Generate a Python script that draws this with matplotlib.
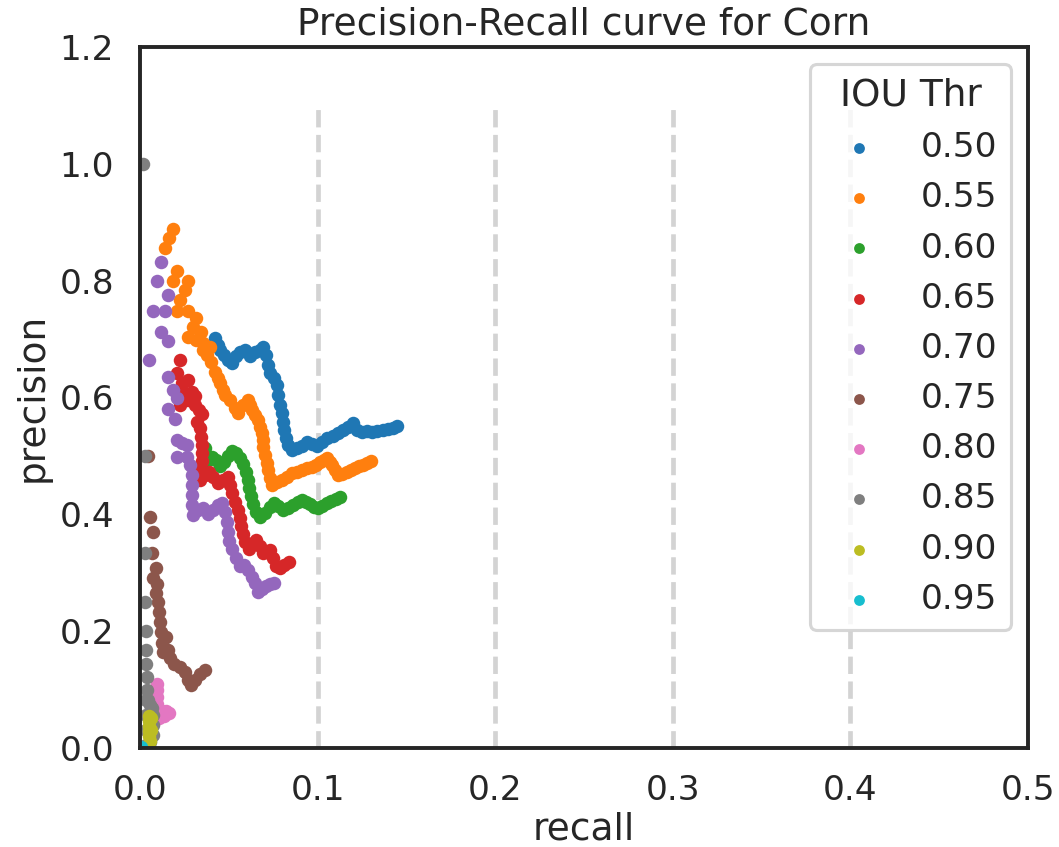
import numpy as np
import matplotlib
matplotlib.use("Agg")
from matplotlib import pyplot as plt
import seaborn as sns

# IOU thresholds shown in the legend
thresholds = ['0.50', '0.55', '0.60', '0.65', '0.70', '0.75', '0.80', '0.85', '0.90', '0.95']

recall_050 = [0.0422, 0.0439, 0.0450, 0.0473, 0.0495, 0.0518, 0.0541, 0.0563, 0.0591, 0.0619,
              0.0648, 0.0676, 0.0693, 0.0709, 0.0721, 0.0732, 0.0755, 0.0771, 0.0777, 0.0788,
              0.0800, 0.0805, 0.0811, 0.0822, 0.0833, 0.0856, 0.0884, 0.0912, 0.0940, 0.0968,
              0.0997, 0.1025, 0.1053, 0.1087, 0.1115, 0.1143, 0.1171, 0.1199, 0.1222, 0.1250,
              0.1278, 0.1306, 0.1334, 0.1368, 0.1396, 0.1425, 0.1447]
precision_050 = [0.702, 0.690, 0.681, 0.673, 0.664, 0.659, 0.671, 0.678, 0.681, 0.671,
                 0.678, 0.681, 0.686, 0.673, 0.656, 0.642, 0.633, 0.621, 0.604, 0.587,
                 0.573, 0.558, 0.544, 0.531, 0.519, 0.510, 0.514, 0.517, 0.524, 0.520,
                 0.517, 0.524, 0.531, 0.534, 0.539, 0.544, 0.549, 0.556, 0.544, 0.541,
                 0.543, 0.541, 0.543, 0.544, 0.546, 0.548, 0.551]

recall_055 = [0.0186, 0.0163, 0.0141, 0.0208, 0.0186, 0.0270, 0.0253, 0.0225, 0.0208, 0.0270,
              0.0315, 0.0298, 0.0343, 0.0270, 0.0315, 0.0355, 0.0394, 0.0355, 0.0377, 0.0400,
              0.0422, 0.0439, 0.0450, 0.0467, 0.0479, 0.0507, 0.0535, 0.0552, 0.0580, 0.0608,
              0.0619, 0.0631, 0.0648, 0.0664, 0.0676, 0.0687, 0.0693, 0.0693, 0.0704, 0.0715,
              0.0721, 0.0732, 0.0743, 0.0771, 0.0800, 0.0828, 0.0856, 0.0884, 0.0912, 0.0940,
              0.0968, 0.0991, 0.1014, 0.1036, 0.1053, 0.1070, 0.1081, 0.1098, 0.1115, 0.1137,
              0.1166, 0.1188, 0.1211, 0.1233, 0.1256, 0.1278, 0.1301]
precision_055 = [0.888, 0.873, 0.856, 0.817, 0.799, 0.799, 0.784, 0.767, 0.748, 0.748,
                 0.736, 0.721, 0.712, 0.704, 0.698, 0.693, 0.686, 0.681, 0.673, 0.661,
                 0.644, 0.633, 0.625, 0.613, 0.604, 0.596, 0.582, 0.573, 0.587, 0.596,
                 0.587, 0.579, 0.570, 0.561, 0.549, 0.539, 0.527, 0.515, 0.502, 0.488,
                 0.476, 0.462, 0.450, 0.455, 0.459, 0.464, 0.471, 0.472, 0.476, 0.479,
                 0.481, 0.484, 0.490, 0.493, 0.496, 0.490, 0.484, 0.476, 0.467, 0.469,
                 0.472, 0.476, 0.479, 0.483, 0.484, 0.488, 0.491]

recall_060 = [0.0366, 0.0366, 0.0383, 0.0405, 0.0428, 0.0450, 0.0473, 0.0495, 0.0518, 0.0541,
              0.0563, 0.0580, 0.0597, 0.0608, 0.0614, 0.0625, 0.0636, 0.0653, 0.0676, 0.0704,
              0.0732, 0.0755, 0.0777, 0.0805, 0.0833, 0.0861, 0.0890, 0.0912, 0.0935, 0.0957,
              0.0980, 0.1002, 0.1025, 0.1053, 0.1075, 0.1104, 0.1126]
precision_060 = [0.514, 0.502, 0.493, 0.498, 0.493, 0.483, 0.490, 0.500, 0.508, 0.505,
                 0.496, 0.486, 0.472, 0.459, 0.445, 0.431, 0.418, 0.404, 0.395, 0.402,
                 0.413, 0.419, 0.414, 0.407, 0.411, 0.416, 0.421, 0.425, 0.421, 0.418,
                 0.413, 0.411, 0.414, 0.419, 0.423, 0.426, 0.430]

recall_065 = [0.0225, 0.0208, 0.0236, 0.0270, 0.0253, 0.0293, 0.0310, 0.0225, 0.0270, 0.0310,
              0.0332, 0.0349, 0.0321, 0.0338, 0.0343, 0.0349, 0.0349, 0.0349, 0.0343, 0.0338,
              0.0366, 0.0389, 0.0411, 0.0439, 0.0467, 0.0495, 0.0507, 0.0518, 0.0535, 0.0552,
              0.0563, 0.0569, 0.0580, 0.0591, 0.0614, 0.0636, 0.0653, 0.0676, 0.0693, 0.0715,
              0.0732, 0.0749, 0.0766, 0.0788, 0.0811, 0.0839]
precision_065 = [0.664, 0.642, 0.625, 0.630, 0.608, 0.609, 0.603, 0.587, 0.596, 0.587,
                 0.579, 0.572, 0.558, 0.548, 0.532, 0.519, 0.505, 0.491, 0.476, 0.459,
                 0.467, 0.472, 0.464, 0.454, 0.459, 0.464, 0.450, 0.436, 0.421, 0.407,
                 0.394, 0.380, 0.366, 0.353, 0.341, 0.351, 0.356, 0.346, 0.334, 0.335,
                 0.339, 0.325, 0.312, 0.308, 0.313, 0.318]

recall_070 = [0.0118, 0.0096, 0.0158, 0.0073, 0.0141, 0.0118, 0.0158, 0.0051, 0.0158, 0.0186,
              0.0208, 0.0158, 0.0197, 0.0208, 0.0236, 0.0265, 0.0208, 0.0265, 0.0282, 0.0293,
              0.0293, 0.0293, 0.0293, 0.0298, 0.0327, 0.0355, 0.0383, 0.0411, 0.0439, 0.0462,
              0.0479, 0.0490, 0.0495, 0.0501, 0.0518, 0.0541, 0.0563, 0.0586, 0.0608, 0.0631,
              0.0648, 0.0664, 0.0687, 0.0709, 0.0732, 0.0755]
precision_070 = [0.832, 0.799, 0.775, 0.748, 0.748, 0.712, 0.697, 0.664, 0.635, 0.613,
                 0.599, 0.580, 0.563, 0.527, 0.522, 0.519, 0.498, 0.498, 0.484, 0.467,
                 0.450, 0.433, 0.416, 0.399, 0.407, 0.411, 0.401, 0.407, 0.416, 0.419,
                 0.404, 0.387, 0.370, 0.354, 0.341, 0.325, 0.312, 0.313, 0.305, 0.293,
                 0.282, 0.267, 0.272, 0.277, 0.281, 0.282]

recall_075 = [0.0045, 0.0056, 0.0073, 0.0068, 0.0090, 0.0073, 0.0096, 0.0090, 0.0101, 0.0107,
              0.0113, 0.0118, 0.0146, 0.0124, 0.0130, 0.0158, 0.0169, 0.0191, 0.0225, 0.0253,
              0.0270, 0.0287, 0.0310, 0.0338, 0.0366]
precision_075 = [0.500, 0.395, 0.370, 0.333, 0.308, 0.291, 0.281, 0.265, 0.250, 0.233,
                 0.216, 0.199, 0.190, 0.180, 0.164, 0.168, 0.154, 0.144, 0.139, 0.130,
                 0.116, 0.108, 0.116, 0.127, 0.134]

recall_080 = [0.0096, 0.0096, 0.0096, 0.0096, 0.0101, 0.0124, 0.0146, 0.0163, 0.0135, 0.0107,
              0.0084]
precision_080 = [0.110, 0.099, 0.087, 0.075, 0.063, 0.063, 0.063, 0.060, 0.055, 0.051,
                 0.048]

recall_085 = [0.0017, 0.0028, 0.0028, 0.0028, 0.0034, 0.0034, 0.0034, 0.0039, 0.0039, 0.0045,
              0.0056, 0.0068, 0.0073, 0.0073, 0.0073, 0.0056, 0.0034, 0.0034, 0.0034, 0.0034]
precision_085 = [1.000, 0.500, 0.333, 0.250, 0.200, 0.167, 0.143, 0.122, 0.099, 0.082,
                 0.074, 0.068, 0.056, 0.039, 0.022, 0.010, 0.005, 0.031, 0.056, 0.082]

recall_090 = [0.0051, 0.0051, 0.0051, 0.0051, 0.0051, 0.0056, 0.0062, 0.0062]
precision_090 = [0.055, 0.046, 0.038, 0.029, 0.021, 0.012, 0.051, 0.031]

recall_095 = [0.0006]
precision_095 = [0.002]

recalls = [recall_050, recall_055, recall_060, recall_065, recall_070,
           recall_075, recall_080, recall_085, recall_090, recall_095]
precisions = [precision_050, precision_055, precision_060, precision_065, precision_070,
              precision_075, precision_080, precision_085, precision_090, precision_095]

ref_recalls = [0.1, 0.2, 0.3, 0.4]

sns.set_style("white")
sns.set_context("talk")

fig = plt.figure(figsize=(1059 / 150, 847 / 150), dpi=150)
ax = fig.add_subplot(111)
fig.subplots_adjust(left=0.1322, right=0.9707, top=0.9445, bottom=0.1169)

colors = plt.get_cmap('tab10').colors
ax.vlines(ref_recalls, 0, 1.1, colors='lightgray', linestyles='--', linewidth=2.25, zorder=1)
for thr, r, p, c in zip(thresholds, recalls, precisions, colors):
    ax.scatter(r, p, s=42, color=c, linewidths=0, label=thr, zorder=2)

ax.set_xlim(0, 0.5)
ax.set_ylim(0, 1.2)
ax.set_xticks(np.arange(0, 0.51, 0.1))
ax.set_yticks(np.arange(0, 1.21, 0.2))
ax.set_xlabel('recall', labelpad=2)
ax.set_ylabel('precision')
ax.set_title('Precision-Recall curve for Corn')
for s in ax.spines.values():
    s.set_color('#262626')
ax.legend(title='IOU Thr', loc='upper right', markerscale=0.8)

fig.savefig('out.png', dpi=150)
